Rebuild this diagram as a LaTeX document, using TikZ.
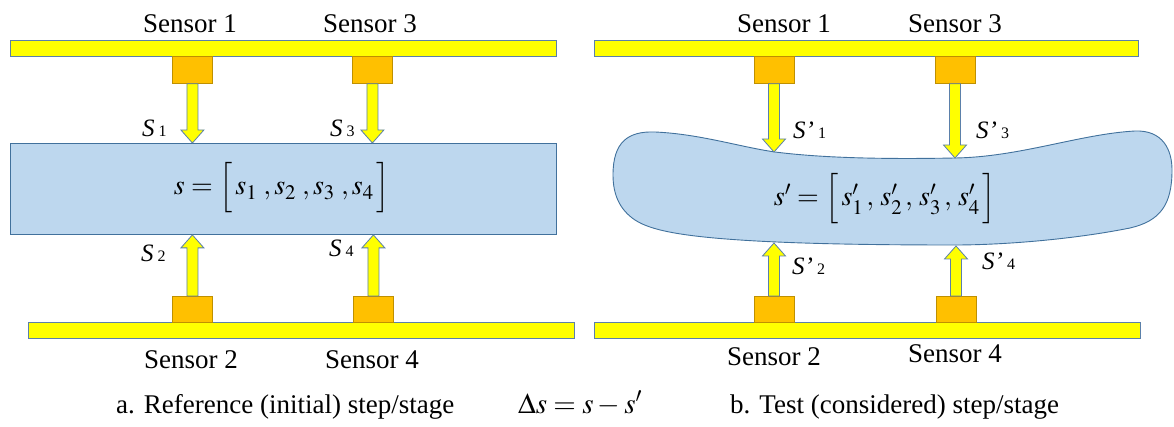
\documentclass[tikz,border=0pt]{standalone}
\usepackage{mathptmx}
\usepackage[no-math]{fontspec}
\setmainfont{Liberation Serif}
\usetikzlibrary{calc}
\definecolor{barfill}{HTML}{FFFF00}
\definecolor{edgeblue}{HTML}{5B80AA}
\definecolor{boxfill}{HTML}{FFC000}
\definecolor{boxedge}{HTML}{BF9000}
\definecolor{bodyfill}{HTML}{BDD7EE}
\definecolor{bodyedge}{HTML}{41719C}
\newcommand\blockarr[3]{\path[blockarrow] let \p1=(#1), \p2=(#2) in
  (\x2-5.5pt,\y1) -- (\x2-5.5pt,\y2+#3) -- (\x2-11.5pt,\y2+#3) -- (\x2,\y2)
  -- (\x2+11.5pt,\y2+#3) -- (\x2+5.5pt,\y2+#3) -- (\x2+5.5pt,\y1) -- cycle;}
\newcommand\slab[2]{{\fontsize{25}{25}\selectfont\itshape #1}\hspace{4pt}{\fontsize{16}{16}\selectfont #2}}
\begin{document}
\begin{tikzpicture}[x=1pt,y=-1pt,
  bar/.style={draw=edgeblue, fill=barfill, line width=0.9pt, minimum width=546pt, minimum height=16pt, inner sep=0pt, anchor=north west},
  sensorbox/.style={draw=boxedge, fill=boxfill, line width=0.8pt, minimum width=40pt, minimum height=26pt, inner sep=0pt, anchor=north west},
  body/.style={draw=bodyedge, fill=bodyfill, line width=0.9pt},
  blockarrow/.style={draw=edgeblue, fill=barfill, line width=0.8pt, line join=miter},
  sname/.style={font=\fontsize{27}{30}\selectfont, anchor=base, inner sep=0pt},
  slabel/.style={anchor=base west, inner sep=0pt},
  formula/.style={font=\fontsize{28}{32}\selectfont, inner sep=0pt},
  caption/.style={font=\fontsize{27}{30}\selectfont, inner sep=0pt}]
\useasboundingbox (0,0) rectangle (1174,427);
% ---------------- left panel ----------------
\node[bar] (barTL) at (10,40) {};
\node[bar] (barBL) at (28,322) {};
\node[body, minimum width=546pt, minimum height=91pt, inner sep=0pt, anchor=north west] (bodyL) at (10,143) {};
\node[formula] (fL) at (282,188) {$s=\Big[\,s_1\;,s_2\;,s_3\;,s_4\,\Big]$};
\node[sensorbox, minimum height=27pt] (L1) at (172,56) {};
\node[sensorbox, minimum height=27pt] (L3) at (352,56) {};
\node[sensorbox] (L2) at (172,296) {};
\node[sensorbox] (L4) at (353,296) {};
\blockarr{L1.south}{L1.south |- bodyL.north}{13pt}
\blockarr{L3.south}{L3.south |- bodyL.north}{13pt}
\blockarr{L2.north}{L2.north |- bodyL.south}{-13pt}
\blockarr{L4.north}{L4.north |- bodyL.south}{-13pt}
\node[sname] (nL1) at (190,33) {Sensor 1};
\node[sname] (nL3) at (370,33) {Sensor 3};
\node[sname] (nL2) at (191,368) {Sensor 2};
\node[sname] (nL4) at (372,368) {Sensor 4};
\node[slabel] (sL1) at (142,137) {\slab{S}{1}};
\node[slabel] (sL3) at (330,137) {\slab{S}{3}};
\node[slabel] (sL2) at (141,262) {\slab{S}{2}};
\node[slabel] (sL4) at (329,257) {\slab{S}{4}};
% ---------------- right panel ----------------
\node[bar, minimum width=544pt] (barTR) at (594,40) {};
\node[bar] (barBR) at (594,322) {};
\draw[body] (613,175) .. controls (613,142) and (628,131) .. (655,132)
  .. controls (700,134) and (740,147) .. (775,152)
  .. controls (830,159) and (900,159) .. (955,158)
  .. controls (1020,157) and (1080,134) .. (1135,131)
  .. controls (1163,130) and (1172,150) .. (1172,170)
  .. controls (1172,205) and (1160,221) .. (1130,228)
  .. controls (1070,240) and (1000,245) .. (955,245)
  .. controls (880,245) and (800,244) .. (740,240)
  .. controls (680,236) and (650,230) .. (635,220)
  .. controls (620,210) and (613,195) .. (613,175) -- cycle;
\node[formula] (fR) at (885,199) {$s'=\Big[\,s'_1\,,\,s'_2\,,\,s'_3\,,\,s'_4\,\Big]$};
\node[sensorbox, minimum height=27pt] (R1) at (754,56) {};
\node[sensorbox, minimum height=27pt] (R3) at (935,56) {};
\node[sensorbox] (R2) at (754,296) {};
\node[sensorbox] (R4) at (936,296) {};
\coordinate (t1) at (774,152);
\coordinate (t3) at (955,158);
\coordinate (t2) at (774,243);
\coordinate (t4) at (956,246);
\blockarr{R1.south}{t1}{13pt}
\blockarr{R3.south}{t3}{13pt}
\blockarr{R2.north}{t2}{-13pt}
\blockarr{R4.north}{t4}{-13pt}
\node[sname] (nR1) at (784,33) {Sensor 1};
\node[sname] (nR3) at (955,33) {Sensor 3};
\node[sname] (nR2) at (774,365) {Sensor 2};
\node[sname] (nR4) at (955,362) {Sensor 4};
\node[slabel] (sR1) at (793,139) {\slab{S’}{1}};
\node[slabel] (sR3) at (976,139) {\slab{S’}{3}};
\node[slabel] (sR2) at (792,275) {\slab{S’}{2}};
\node[slabel] (sR4) at (982,270) {\slab{S’}{4}};
% ---------------- captions ----------------
\node[caption, anchor=base west] (capA) at (116,413) {a. Reference (initial) step/stage};
\node[caption, anchor=base] (capD) at (580,413) {\fontsize{29}{30}\selectfont$\Delta s=s-s'$};
\node[caption, anchor=base west] (capB) at (730,413) {b. Test (considered) step/stage};
\end{tikzpicture}
\end{document}
